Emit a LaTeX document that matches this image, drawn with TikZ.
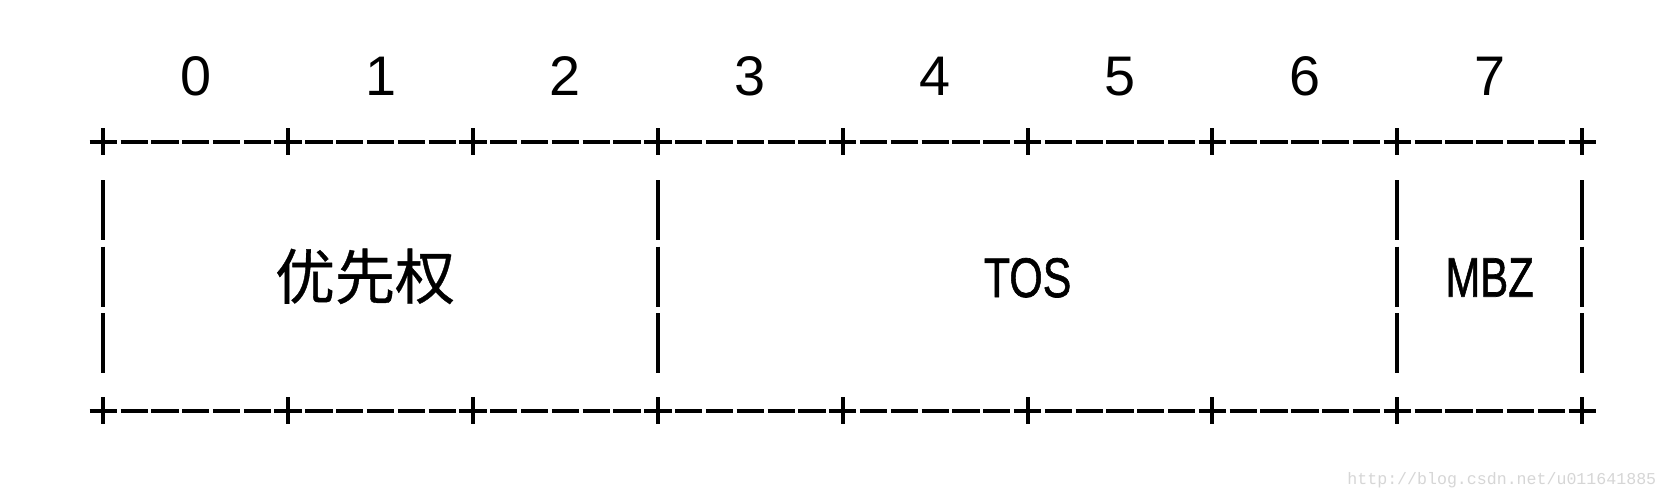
\documentclass[tikz,border=0pt]{standalone}
\usepackage{fontspec}
\setmainfont{Liberation Sans}
\newfontfamily\cjk[FakeBold=0.6]{Noto Sans CJK SC}
\newfontfamily\heavysans[FakeBold=1.2]{Liberation Sans}
\newfontfamily\wmfont{Liberation Mono}
\begin{document}
\begin{tikzpicture}[x=0.5pt,y=-0.5pt,
  rule/.style={line width=2pt,black,line cap=butt},
  digit/.style={anchor=base,inner sep=0pt,font=\fontsize{27.9pt}{30pt}\selectfont},
  field/.style={anchor=base,inner sep=0pt,font=\heavysans\fontsize{27.9pt}{30pt}\selectfont},
  cjkfield/.style={anchor=base,inner sep=0pt,font=\cjk\fontsize{30pt}{32pt}\selectfont},
  watermark/.style={anchor=base west,inner sep=0pt,text=black!16,font=\wmfont\fontsize{8.3pt}{9pt}\selectfont}]
\useasboundingbox (0,0) rectangle (1670,500);
\fill[white] (0,0) rectangle (1670,500);
% bit numbers
\foreach \k in {0,...,7}{
  \node[digit] (b\k) at ({103.3+184.86*\k+92.4},95) {\k};
}
% top and bottom borders
\foreach \yy/\name in {141.7/top,410.5/bot}{
  \foreach \k in {0,...,8}{
    \coordinate (\name p\k) at ({103.3+184.86*\k},\yy);
    \draw[rule] ([xshift=-6.85pt]\name p\k) -- ([xshift=6.85pt]\name p\k);
    \draw[rule] ([yshift=6.7pt]\name p\k) -- ([yshift=-6.7pt]\name p\k);
  }
  \foreach \k in {0,...,7}{
    \foreach \j in {1,...,5}{
      \draw[rule] ({103.3+184.86*\k+30.81*\j-13.6},\yy) -- ({103.3+184.86*\k+30.81*\j+13.6},\yy);
    }
  }
}
% vertical bars
\foreach \k in {0,3,7,8}{
  \foreach \yc in {210,276.7,343.3}{
    \draw[rule] ({103.3+184.86*\k},\yc-30) -- ({103.3+184.86*\k},\yc+30);
  }
}
% field labels
\node[cjkfield] (prio) at (365,299) {优先权};
\node[field] (tos) at (1027.6,297) {\scalebox{0.77}[1]{TOS}};
\node[field] (mbz) at (1489.6,296.7) {\scalebox{0.75}[1]{MBZ}};
% watermark
\node[watermark] (wm) at (1347,484) {http://blog.csdn.net/u011641885};
\end{tikzpicture}
\end{document}
